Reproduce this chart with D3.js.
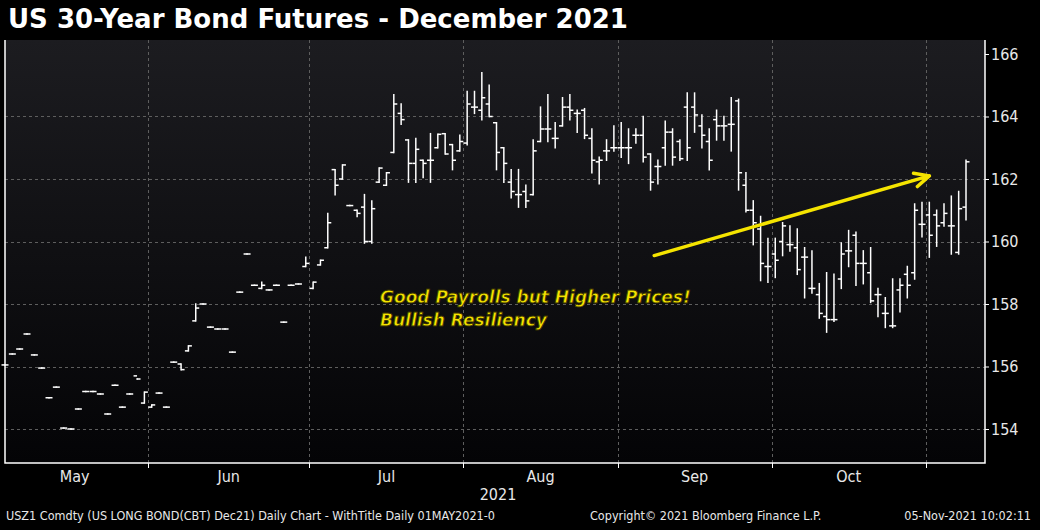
<!DOCTYPE html>
<html>
<head>
<meta charset="utf-8">
<script src="https://cdn.jsdelivr.net/npm/d3@7"></script>
<style>
  body { margin: 0; background: #000; }
  svg { display: block; }
</style>
</head>
<body>
<svg id="chart" width="1040" height="530"></svg>
<script>
// ---------------------------------------------------------
// DATA  (daily OHLC, trading days from 03-May-2021 to 05-Nov-2021)
// ---------------------------------------------------------
const mayBars = [
  [156.05,156.05,156.05,156.05],[156.4,156.4,156.4,156.4],[156.56,156.56,156.56,156.56],
  [157.04,157.04,157.04,157.04],[156.37,156.37,156.37,156.37],[155.95,155.95,155.95,155.95],
  [155.0,155.0,155.0,155.0],[155.34,155.34,155.34,155.34],[154.03,154.03,154.03,154.03],
  [154.0,154.0,154.0,154.0],[154.64,154.64,154.64,154.64],[155.2,155.2,155.2,155.2],
  [155.2,155.2,155.2,155.2],[155.12,155.12,155.12,155.12],[154.48,154.48,154.48,154.48],
  [155.4,155.4,155.4,155.4],[154.7,154.7,154.7,154.7],[155.12,155.12,155.12,155.12],
  [155.7,155.6,155.6,155.6],[154.83,155.18,154.83,155.18]
];
const junBars = [
  [154.7,154.77,154.7,154.77],[155.15,155.15,155.15,155.15],[154.7,154.7,154.7,154.7],
  [156.14,156.14,156.14,156.14],[156.08,156.08,155.9,155.9],[156.5,156.66,156.5,156.66],
  [157.46,158.0,157.46,157.87],[158.0,158.0,158.0,158.0],[157.26,157.26,157.26,157.26],
  [157.2,157.2,157.2,157.2],[157.2,157.2,157.2,157.2],[156.46,156.46,156.46,156.46],
  [158.38,158.38,158.38,158.38],[159.6,159.6,159.6,159.6],[158.6,158.6,158.6,158.6],
  [158.5,158.7,158.5,158.6],[158.45,158.45,158.45,158.45],[158.6,158.6,158.6,158.6],
  [157.42,157.42,157.42,157.42],[158.6,158.6,158.6,158.6],[158.64,158.64,158.64,158.64],
  [159.2,159.5,159.2,159.3]
];
const julBars = [
  [158.5,158.7,158.5,158.7],[159.25,159.4,159.25,159.4],[159.8,160.9,159.8,160.6],
  [162.3,162.3,161.5,161.8],[162.0,162.45,162.0,162.45],[161.15,161.15,161.15,161.15],
  [161.0,161.0,160.8,160.9],[161.1,161.5,159.95,160.0],[160.0,161.3,159.95,161.05],
  [161.9,162.35,161.9,162.35],[161.8,162.2,161.8,162.2],[162.85,164.7,162.85,164.4],
  [164.1,164.4,163.75,163.9],[163.25,163.25,161.9,162.5],[162.5,163.3,161.9,162.95],
  [162.6,162.6,162.05,162.5],[162.6,163.45,161.9,162.6],[163.0,163.43,163.0,163.43],
  [163.45,163.45,162.8,162.8],[163.1,163.1,162.3,162.6],[162.9,163.4,162.9,163.2]
];
const augBars = [
  [163.15,164.8,163.1,164.4],[164.3,164.8,164.1,164.3],[164.2,165.4,163.9,164.6],
  [164.4,165.0,164.0,164.0],[163.8,163.8,162.3,162.85],[163.0,163.0,161.9,162.5],
  [161.9,162.3,161.4,161.6],[161.5,162.3,161.1,161.5],[161.6,161.8,161.1,161.3],
  [161.5,163.25,161.5,162.9],[163.2,164.3,163.2,163.6],[163.6,164.7,163.2,163.6],
  [163.3,163.8,163.0,163.3],[163.7,164.6,163.7,164.3],[164.3,164.7,163.9,164.2],
  [164.1,164.2,163.5,164.1],[164.2,164.25,163.3,163.4],[163.3,163.6,162.2,162.6],
  [162.55,162.7,161.85,162.6],[162.9,163.25,162.6,162.9],[163.0,163.7,162.9,163.0]
];
const sepOctBars = [
  [163.0,163.8,162.7,163.0],[163.0,163.6,162.5,163.0],[163.4,163.6,163.15,163.4],
  [163.4,164.0,162.55,162.7],[162.8,162.8,161.65,161.9],[162.4,162.6,161.85,162.4],
  [163.0,163.85,162.45,163.5],[163.5,163.6,162.45,162.7],[163.2,163.25,162.6,162.65],
  [164.3,164.75,162.6,163.0],[164.3,164.75,163.5,164.05],[163.7,164.05,163.0,163.4],
  [163.2,163.6,162.3,162.6],[163.9,164.2,163.25,163.7],[163.7,164.0,163.25,163.7],
  [163.75,164.6,162.9,163.75],[164.5,164.55,161.65,162.2],[161.8,162.2,160.95,161.0],
  [161.0,161.3,159.9,160.6],[160.4,160.8,158.75,159.3],[159.2,160.1,158.7,159.2],
  [159.6,160.1,158.85,159.4],[160.0,160.6,159.55,160.5],[159.9,160.5,159.7,159.9],
  [159.8,160.4,158.95,159.1],[159.5,159.8,158.2,159.5],[158.5,159.7,158.35,158.5],
  [158.3,158.65,157.55,157.7],[157.6,159.0,157.1,157.5],[157.5,158.95,157.45,157.5],
  [158.8,159.95,158.5,159.6],[159.7,160.35,159.2,159.7],[160.2,160.3,158.6,159.3],
  [159.3,159.7,158.65,159.3],[159.0,159.8,158.05,158.1],[158.3,158.5,157.6,158.3],
  [157.7,158.2,157.25,157.7],[157.3,158.8,157.25,157.3],[158.45,158.8,157.75,158.6],
  [158.95,159.2,158.2,158.6],[159.0,161.2,158.8,161.0],[160.55,161.25,160.15,160.55]
];
const novBars = [
  [160.85,161.25,159.5,160.2],[160.85,161.0,159.85,160.5],[160.6,161.2,160.5,160.9],
  [160.5,161.45,159.6,160.5],[159.65,161.6,159.6,161.05],[161.1,162.6,160.7,162.55]
];

const monthNames = ["May", "Jun", "Jul", "Aug", "Sep", "Oct"];
// index of first bar of each month (Nov gridline included)
const monthStarts = [0, 20, 42, 63, 84, 105, 126];
const yTicks = [154, 156, 158, 160, 162, 164, 166];
const title = "US 30-Year Bond Futures - December 2021";
const noteLines = ["Good Payrolls but Higher Prices!", "Bullish Resiliency"];
// arrow: [bar index, price] start and end
const arrowPts = [[88.5, 159.55], [126, 162.1]];

const bars = [].concat(mayBars, junBars, julBars, augBars, sepOctBars, novBars);

// ---------------------------------------------------------
// SETUP
// ---------------------------------------------------------
const W = 1040, H = 530;
const plot = { left: 5, right: 985, top: 40, bottom: 463 };
const svg = d3.select("#chart");
const narrow = "'Liberation Sans Narrow', 'DejaVu Sans Condensed', Arial, sans-serif";

const x = d3.scaleLinear().domain([0, bars.length - 1]).range([5, 966]);
const y = d3.scaleLinear().domain([154, 166]).range([429, 54]);
const step = x(1) - x(0);

const defs = svg.append("defs");
const grad = defs.append("linearGradient").attr("id", "bg").attr("x1", 0).attr("x2", 0).attr("y1", 0).attr("y2", 1);
grad.append("stop").attr("offset", "0%").attr("stop-color", "#1c1c20");
grad.append("stop").attr("offset", "100%").attr("stop-color", "#040406");

svg.append("rect").attr("width", W).attr("height", H).attr("fill", "#000");
svg.append("rect")
  .attr("x", plot.left).attr("y", plot.top)
  .attr("width", plot.right - plot.left).attr("height", plot.bottom - plot.top)
  .attr("fill", "url(#bg)");

// title
svg.append("text")
  .attr("x", 8).attr("y", 28)
  .attr("fill", "#fff")
  .attr("font-family", "'DejaVu Sans', Verdana, sans-serif")
  .attr("font-weight", "bold").attr("font-size", 26)
  .text(title);

// grid
const grid = svg.append("g").attr("stroke", "#5e5e5e").attr("stroke-dasharray", "3,3").attr("stroke-width", 1);
grid.selectAll("line.h").data(yTicks.filter(d => d < 166)).enter().append("line")
  .attr("x1", plot.left).attr("x2", plot.right)
  .attr("y1", d => Math.round(y(d)) + 0.5).attr("y2", d => Math.round(y(d)) + 0.5);
grid.selectAll("line.v").data(monthStarts.slice(1)).enter().append("line")
  .attr("x1", d => Math.round(x(d) - step / 2) + 0.5).attr("x2", d => Math.round(x(d) - step / 2) + 0.5)
  .attr("y1", plot.top).attr("y2", plot.bottom);

// frame
svg.append("path")
  .attr("d", `M${plot.left},${plot.top}V${plot.bottom}H${plot.right}V${plot.top}`)
  .attr("fill", "none").attr("stroke", "#fff").attr("stroke-width", 1.5);

// right axis
const yAxis = d3.axisRight(y).tickValues(yTicks).tickSize(4).tickFormat(d3.format("d"));
const ya = svg.append("g").attr("transform", `translate(${plot.right},0)`).call(yAxis);
ya.select(".domain").remove();
ya.selectAll("line").attr("stroke", "#fff");
ya.selectAll("text").attr("fill", "#e8e8e8").attr("font-size", 16).attr("font-family", narrow).attr("x", 6);

// month ticks and labels
const monthTicks = svg.append("g");
monthTicks.selectAll("line").data(monthStarts.slice(1)).enter().append("line")
  .attr("x1", d => Math.round(x(d) - step / 2) + 0.5).attr("x2", d => Math.round(x(d) - step / 2) + 0.5)
  .attr("y1", plot.bottom).attr("y2", plot.bottom + 5).attr("stroke", "#fff");
monthTicks.selectAll("text").data(monthNames).enter().append("text")
  .attr("x", (d, i) => (x(monthStarts[i]) + x(monthStarts[i + 1])) / 2 - step / 2)
  .attr("y", 482)
  .attr("text-anchor", "middle").attr("fill", "#e8e8e8")
  .attr("font-size", 16).attr("font-family", narrow)
  .text(d => d);
svg.append("text").attr("x", 498).attr("y", 500).attr("text-anchor", "middle")
  .attr("fill", "#e8e8e8").attr("font-size", 16).attr("font-family", narrow).text("2021");

// footer
const foot = svg.append("g").attr("fill", "#e8e8e8").attr("font-size", 12.5).attr("font-family", narrow);
foot.append("text").attr("x", 6).attr("y", 520).text("USZ1 Comdty (US LONG BOND(CBT) Dec21) Daily Chart - WithTitle  Daily 01MAY2021-0");
foot.append("text").attr("x", 590).attr("y", 520).text("Copyright\u00a9 2021 Bloomberg Finance L.P.");
foot.append("text").attr("x", 1031).attr("y", 520).attr("text-anchor", "end").text("05-Nov-2021 10:02:11");

// OHLC bars
const g = svg.append("g").attr("stroke", "#fff").attr("stroke-width", 1.5).attr("fill", "none");
const bar = g.selectAll("g.bar").data(bars).enter().append("g");
bar.append("line")
  .attr("x1", (d, i) => x(i)).attr("x2", (d, i) => x(i))
  .attr("y1", d => y(d[1]) - 0.75).attr("y2", d => y(d[2]) + 0.75);
bar.append("line")
  .attr("x1", (d, i) => x(i) - 3.5).attr("x2", (d, i) => x(i))
  .attr("y1", d => y(d[0])).attr("y2", d => y(d[0]));
bar.append("line")
  .attr("x1", (d, i) => x(i)).attr("x2", (d, i) => x(i) + 3.5)
  .attr("y1", d => y(d[3])).attr("y2", d => y(d[3]));

// annotation arrow
const [a0, a1] = arrowPts.map(p => [x(p[0]), y(p[1])]);
const ang = Math.atan2(a1[1] - a0[1], a1[0] - a0[0]);
const hl = 16, ha = 0.45;
svg.append("path")
  .attr("d", `M${a0[0]},${a0[1]}L${a1[0]},${a1[1]}` +
    `M${a1[0] - hl * Math.cos(ang - ha)},${a1[1] - hl * Math.sin(ang - ha)}L${a1[0]},${a1[1]}` +
    `L${a1[0] - hl * Math.cos(ang + ha)},${a1[1] - hl * Math.sin(ang + ha)}`)
  .attr("fill", "none").attr("stroke", "#f5e400").attr("stroke-width", 3.5)
  .attr("stroke-linecap", "round").attr("stroke-linejoin", "round");

svg.append("g").selectAll("text").data(noteLines).enter().append("text")
  .attr("x", 380).attr("y", (d, i) => 303 + i * 23)
  .attr("fill", "#f5e400").attr("stroke", "#3a3300").attr("stroke-width", 0.8)
  .attr("font-family", "Verdana, 'DejaVu Sans', sans-serif")
  .attr("font-weight", "bold").attr("font-style", "italic").attr("font-size", 17)
  .text(d => d);
</script>
</body>
</html>
